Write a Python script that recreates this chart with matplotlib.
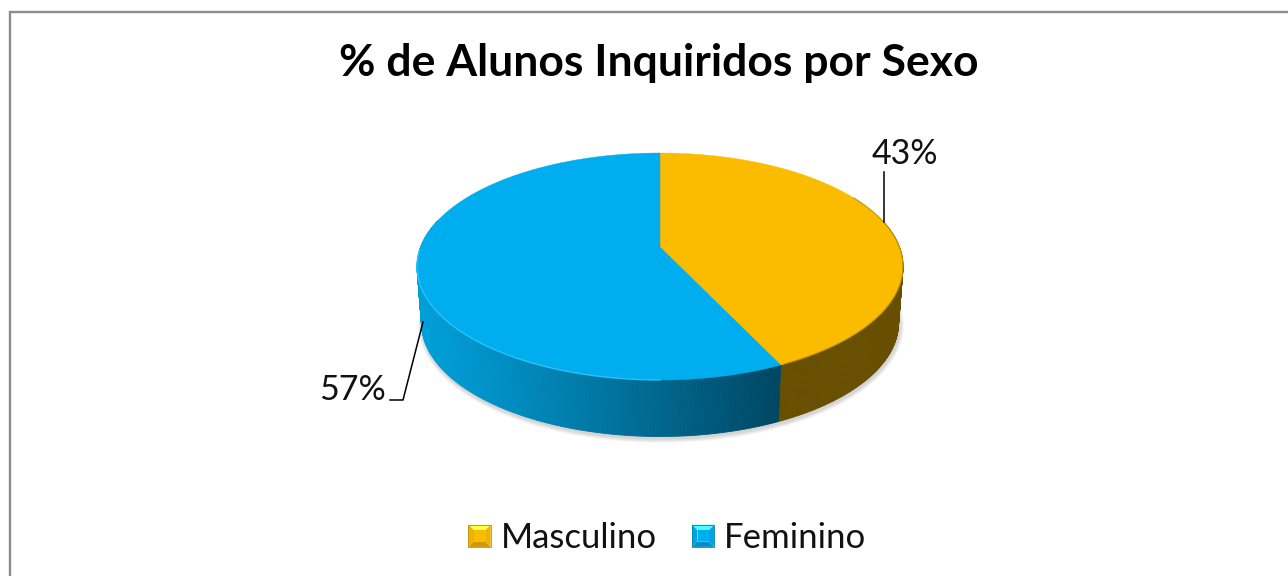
import numpy as np
import matplotlib
matplotlib.use("Agg")
import matplotlib.pyplot as plt
from matplotlib.legend_handler import HandlerBase
from matplotlib.patches import Patch, Polygon, Ellipse
from matplotlib.colors import to_rgb

TITLE = "% de Alunos Inquiridos por Sexo"
categories = ["Masculino", "Feminino"]
values = [43, 57]
top_colors = ["#FBBC00", "#00AEEF"]
plt.rcParams["font.family"] = ["Lato", "DejaVu Sans"]

W, H = 1288, 576
fig = plt.figure(figsize=(W / 100, H / 100), dpi=100, facecolor="white")
ax = fig.add_axes([0, 0, 1, 1])
ax.set_xlim(0, W)
ax.set_ylim(H, 0)
ax.axis("off")

# frame
ax.plot([10.5, 10.5, W], [H, 12, 12], color="#8c8c8c", lw=1.7, solid_joinstyle="miter", zorder=1)

# pie geometry
CX, CY, RX, RY = 660, 266.5, 243, 113.5
BCX, BCY, BRX, BRY = 660, 323, 238.5, 113.5
APEX_Y = 247
a = (CY - APEX_Y) / RY


def project(frac):
    """Fraction of the turn, clockwise from the top, to unit-circle point in perspective."""
    th = 2 * np.pi * np.asarray(frac)
    u, v = np.sin(th), np.cos(th)
    d = 1 + a * v
    return u * np.sqrt(1 - a * a) / d, (v + a) / d


def top_xy(frac):
    u, v = project(frac)
    return CX + RX * u, CY - RY * v


def bottom_xy(frac):
    u, v = project(frac)
    return BCX + BRX * u, BCY - BRY * v


# soft shadow under the pie
for i in range(8):
    grow = 4.5 - i * 0.55
    ax.add_patch(Ellipse((BCX + 1, BCY + 2), 2 * (BRX + grow), 2 * (BRY + grow), fc="#505050", ec="none", alpha=0.03, zorder=2))

fractions = np.cumsum([0] + values) / sum(values)


def side_colour(i, x):
    if i == 0:
        return "#684F00"
    s = np.clip((x - 420) / (778 - 420), 0, 1)
    c0, c1 = np.array(to_rgb("#009FD9")), np.array(to_rgb("#004763"))
    return tuple(c0 + (c1 - c0) * s ** 1.1)


# side walls (visible strips only)
for i in range(len(values)):
    f = np.linspace(fractions[i], fractions[i + 1], 300)
    for f0, f1 in zip(f[:-1], f[1:]):
        fm = (f0 + f1) / 2
        if np.cos(2 * np.pi * fm) > 0.25:
            continue
        x0, y0 = top_xy(f0)
        x1, y1 = top_xy(f1)
        x2, y2 = bottom_xy(f1)
        x3, y3 = bottom_xy(f0)
        col = side_colour(i, (x0 + x1) / 2)
        ax.add_patch(Polygon([(x0, y0), (x1, y1), (x2, y2), (x3, y3)], fc=col, ec=col, lw=0.6, zorder=3))

# top faces
for i in range(len(values)):
    f = np.linspace(fractions[i], fractions[i + 1], 300)
    xs, ys = top_xy(f)
    px = np.r_[CX, xs]
    py = np.r_[APEX_Y, ys]
    ax.fill(px, py, color=top_colors[i], lw=0.3, zorder=4)

# rim accents
f = np.linspace(0.5, 0.745, 200)
ax.plot(*top_xy(f), color="#35C8FF", lw=1.0, alpha=0.8, zorder=5)
f = np.linspace(0.17, fractions[1] - 0.002, 100)
ax.plot(*top_xy(f), color="#B38600", lw=0.9, alpha=0.7, zorder=5)

# title
ax.text(659, 63, TITLE, ha="center", va="center", fontsize=32, fontweight="bold", color="black", zorder=6)

# data labels and leader lines
ax.text(905, 154, f"{values[0]}%", ha="center", va="center", fontsize=24.5, color="#111111", zorder=6)
ax.text(353, 390, f"{values[1]}%", ha="center", va="center", fontsize=24.5, color="#111111", zorder=6)
ax.plot([884.5, 884.5], [172, 222], color="black", lw=1.1, zorder=6)
ax.plot([423, 403, 390], [322, 400, 400], color="black", lw=1.1, zorder=6)


class BevelHandler(HandlerBase):
    def create_artists(self, legend, handle, xd, yd, width, height, fontsize, trans):
        s = 16
        x0, y0 = -xd + (width - s) / 2, -yd + (height - s) / 2
        base = np.array(to_rgb(handle.get_facecolor()))
        inset = 4
        p = [(x0, y0), (x0 + s, y0), (x0 + s, y0 + s), (x0, y0 + s)]
        q = [(x0 + inset, y0 + inset), (x0 + s - inset, y0 + inset), (x0 + s - inset, y0 + s - inset), (x0 + inset, y0 + s - inset)]
        shades = [base * 0.82, base * 0.95, np.minimum(base + 0.3, 1), base * 0.95]
        arts = []
        for k in range(4):
            arts.append(Polygon([p[k], p[(k + 1) % 4], q[(k + 1) % 4], q[k]], fc=shades[k], ec="none", transform=trans))
        arts.append(Polygon(q, fc=base, ec="none", transform=trans))
        arts.append(Polygon(p, fc="none", ec=base * 0.75, lw=0.6, transform=trans))
        return arts


handles = [Patch(facecolor=c, label=n) for c, n in zip(top_colors, categories)]
leg = ax.legend(
    handles=handles, loc="center", bbox_to_anchor=(667.5 / W, 1 - 538 / H), ncol=2, frameon=False,
    fontsize=25, labelcolor="#111111", handler_map={Patch: BevelHandler()},
    handlelength=0.64, handleheight=0.64, handletextpad=0.29, columnspacing=1.01,
    borderpad=0, borderaxespad=0,
)
leg.set_zorder(6)

fig.savefig("out.png", dpi=100, facecolor="white")
